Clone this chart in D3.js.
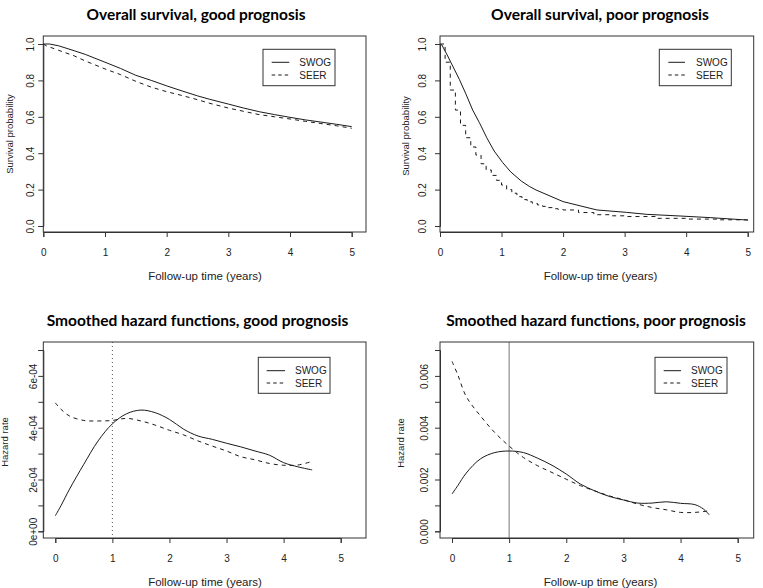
<!DOCTYPE html>
<html><head><meta charset="utf-8">
<script src="https://cdn.jsdelivr.net/npm/d3@7"></script>
<style>
body{margin:0;background:#fff;}
svg{display:block;}
text{font-family:"Liberation Sans",Arial,sans-serif;fill:#222;}
.title{font-family:Lato,"Open Sans",sans-serif;font-weight:700;fill:#000;}
</style></head><body>
<svg id="chart" width="763" height="588"></svg>
<script>
// ---------- DATA ----------
const yearTicks = [0,1,2,3,4,5];
const survTicks = [0,0.2,0.4,0.6,0.8,1.0];
const survTickLabels = ["0.0","0.2","0.4","0.6","0.8","1.0"];
const hazGoodTicks = [0,1e-4,2e-4,3e-4,4e-4,5e-4,6e-4,7e-4];
const hazGoodTickLabels = ["0e+00","","2e-04","","4e-04","","6e-04",""];
const hazPoorTicks = [0,0.001,0.002,0.003,0.004,0.005,0.006,0.007];
const hazPoorTickLabels = ["0.000","","0.002","","0.004","","0.006",""];
const seriesNames = ["SWOG","SEER"];

// Overall survival, good prognosis
const survGoodSwogT = [0,0.1,0.25,0.5,0.68,1.0,1.25,1.5,1.75,2.0,2.25,2.5,2.7,3.0,3.25,3.5,3.75,4.0,4.25,4.5,4.75,5.0];
const survGoodSwogS = [1.0,1.0,0.99,0.963,0.943,0.900,0.866,0.828,0.800,0.770,0.742,0.715,0.696,0.670,0.648,0.628,0.612,0.597,0.583,0.571,0.559,0.546];
const survGoodSeerT = [0,0.05,0.25,0.5,0.68,1.0,1.25,1.5,1.75,2.0,2.25,2.5,2.7,3.0,3.25,3.5,3.75,4.0,4.25,4.5,4.75,5.0];
const survGoodSeerS = [1.0,0.99,0.965,0.935,0.907,0.863,0.832,0.795,0.763,0.738,0.717,0.694,0.674,0.648,0.630,0.612,0.600,0.588,0.575,0.563,0.551,0.537];

// Overall survival, poor prognosis
const survPoorSwogT = [0,0.03,0.125,0.206,0.314,0.423,0.531,0.64,0.76,0.88,1.02,1.15,1.32,1.46,1.56,2.0,2.55,3.03,3.36,3.9,4.39,4.98,5.0];
const survPoorSwogS = [1.0,0.995,0.934,0.879,0.806,0.724,0.637,0.568,0.485,0.412,0.348,0.297,0.247,0.216,0.198,0.134,0.088,0.075,0.064,0.055,0.046,0.033,0.032];
const survPoorSeerT = [0,0.083,0.167,0.25,0.333,0.417,0.5,0.583,0.667,0.75,0.833,0.917,1.0,1.083,1.167,1.25,1.333,1.417,1.5,1.583,1.667,1.75,1.833,1.917,2.0,2.25,2.5,2.75,3.0,3.5,4.0,4.5,5.0];
const survPoorSeerS = [1.0,0.90,0.747,0.637,0.553,0.485,0.434,0.39,0.342,0.308,0.278,0.251,0.225,0.20,0.18,0.161,0.145,0.133,0.124,0.116,0.108,0.101,0.095,0.091,0.088,0.074,0.062,0.056,0.052,0.042,0.038,0.034,0.030];

// Smoothed hazard, good prognosis
const hazT = [0,0.1,0.25,0.5,0.75,1.0,1.25,1.5,1.75,2.0,2.25,2.5,2.75,3.0,3.25,3.5,3.75,4.0,4.25,4.5];
const hazGoodSwog = [0.60e-4,0.99e-4,1.63e-4,2.59e-4,3.49e-4,4.15e-4,4.54e-4,4.68e-4,4.58e-4,4.32e-4,3.94e-4,3.68e-4,3.55e-4,3.40e-4,3.26e-4,3.10e-4,2.94e-4,2.65e-4,2.49e-4,2.37e-4];
const hazGoodSeer = [4.96e-4,4.71e-4,4.45e-4,4.28e-4,4.26e-4,4.28e-4,4.36e-4,4.26e-4,4.10e-4,3.90e-4,3.72e-4,3.49e-4,3.29e-4,3.10e-4,2.88e-4,2.76e-4,2.62e-4,2.55e-4,2.56e-4,2.70e-4];

// Smoothed hazard, poor prognosis
const hazPoorSwogT = [0,0.1,0.25,0.5,0.75,1.0,1.25,1.5,1.75,2.0,2.25,2.5,2.75,3.0,3.25,3.5,3.75,4.0,4.25,4.4,4.5];
const hazPoorSwog = [1.44e-3,1.76e-3,2.25e-3,2.80e-3,3.04e-3,3.10e-3,3.04e-3,2.82e-3,2.55e-3,2.21e-3,1.82e-3,1.56e-3,1.35e-3,1.21e-3,1.09e-3,1.09e-3,1.14e-3,1.08e-3,1.03e-3,0.86e-3,0.64e-3];
const hazPoorSeer = [6.56e-3,6.05e-3,5.20e-3,4.45e-3,3.81e-3,3.29e-3,2.85e-3,2.53e-3,2.27e-3,2.01e-3,1.76e-3,1.56e-3,1.37e-3,1.22e-3,1.05e-3,0.92e-3,0.83e-3,0.73e-3,0.73e-3,0.79e-3];

const titles = ["Overall survival, good prognosis","Overall survival, poor prognosis",
  "Smoothed hazard functions, good prognosis","Smoothed hazard functions, poor prognosis"];
const xTitle = "Follow-up time (years)";
const yTitles = ["Survival probability","Survival probability","Hazard rate","Hazard rate"];

// ---------- LAYOUT ----------
const svg = d3.select("#chart");
const zip = (t,v)=>t.map((d,i)=>[d,v[i]]);

const panels = [
 {box:[43.3,36,366,232], x:[43.3,351.7], y:[226,44], yd:[0,1], yt:survTicks, ytl:survTickLabels,
  ylx:30, ytitx:10, ytity:134, tx:196, ty:15, tw:219, xtx:205, xty:276,
  leg:[263,49.3,335,85.7], legLine:[271.7,289.3], legText:299.3, legY:[62.3,75],
  series:[{d:zip(survGoodSwogT,survGoodSwogS),dash:null,curve:d3.curveLinear},
          {d:zip(survGoodSeerT,survGoodSeerS),dash:"4,4",curve:d3.curveLinear}]},
 {box:[440,36,753.7,232], x:[440,747.7], y:[226,44], yd:[0,1], yt:survTicks, ytl:survTickLabels,
  ylx:422.7, ytitx:406, ytity:136, tx:600, ty:15, tw:218, xtx:600.5, xty:276,
  leg:[659.3,49.3,731.3,85.7], legLine:[668.3,685], legText:696, legY:[62.3,75],
  series:[{d:zip(survPoorSwogT,survPoorSwogS),dash:null,curve:d3.curveLinear},
          {d:zip(survPoorSeerT,survPoorSeerS),dash:"4,4",curve:d3.curveStepAfter}]},
 {box:[43.3,342,366,538], x:[55.3,340.7], y:[531.3,350], yd:[0,7e-4], yt:hazGoodTicks, ytl:hazGoodTickLabels,
  ylx:33, ytitx:4.5, ytity:442, tx:197.5, ty:321, tw:302, xtx:205, xty:582,
  leg:[258.3,357.3,330,393.3], legLine:[266.7,285], legText:295, legY:[370.7,383],
  vline:{dash:"1,3",color:"#555"},
  series:[{d:zip(hazT,hazGoodSwog),dash:null,curve:d3.curveCatmullRom},
          {d:zip(hazT,hazGoodSeer),dash:"4,4",curve:d3.curveCatmullRom}]},
 {box:[440,342,753.7,538], x:[452,737.7], y:[531.3,350], yd:[0,0.007], yt:hazPoorTicks, ytl:hazPoorTickLabels,
  ylx:424.3, ytitx:401, ytity:443, tx:596, ty:321, tw:300, xtx:600.5, xty:582,
  leg:[655,357.3,727,393.3], legLine:[663.7,681], legText:691, legY:[370.7,383],
  vline:{dash:null,color:"#777"},
  series:[{d:zip(hazPoorSwogT,hazPoorSwog),dash:null,curve:d3.curveCatmullRom},
          {d:zip(hazT,hazPoorSeer),dash:"4,4",curve:d3.curveCatmullRom}]}
];

panels.forEach((p,i)=>{
  const g = svg.append("g");
  const [bx0,by0,bx1,by1] = p.box;
  const xs = d3.scaleLinear().domain([0,5]).range(p.x);
  const ys = d3.scaleLinear().domain(p.yd).range(p.y);

  if (p.vline) {
    g.append("line").attr("x1",xs(1)).attr("x2",xs(1)).attr("y1",by0).attr("y2",by1)
      .attr("stroke",p.vline.color).attr("stroke-width",1)
      .attr("stroke-dasharray",p.vline.dash);
  }

  p.series.forEach(s=>{
    const line = d3.line().x(d=>xs(d[0])).y(d=>ys(d[1])).curve(s.curve);
    g.append("path").attr("d",line(s.d)).attr("fill","none")
      .attr("stroke","#1a1a1a").attr("stroke-width",1)
      .attr("stroke-dasharray",s.dash);
  });

  g.append("rect").attr("x",bx0).attr("y",by0).attr("width",bx1-bx0).attr("height",by1-by0)
    .attr("fill","none").attr("stroke","#333").attr("stroke-width",1);

  const xa = g.append("g").attr("transform",`translate(0,${by1})`)
    .call(d3.axisBottom(xs).tickValues(yearTicks).tickSize(5).tickPadding(12).tickFormat(d3.format("d")));
  xa.select(".domain").attr("stroke","#333");
  xa.selectAll(".tick line").attr("stroke","#333");
  xa.selectAll("text").attr("font-size","10px").attr("fill","#222")
    .style("font-family","'Liberation Sans',Arial,sans-serif");

  const ya = g.append("g").attr("transform",`translate(${bx0},0)`)
    .call(d3.axisLeft(ys).tickValues(p.yt).tickSize(5).tickFormat((d,k)=>p.ytl[k]));
  ya.select(".domain").attr("stroke","#333");
  ya.selectAll(".tick line").attr("stroke","#333");
  ya.selectAll(".tick text").attr("x",null).attr("dy",null).attr("text-anchor","middle")
    .attr("transform",`translate(${p.ylx-bx0},0) rotate(-90)`).attr("dy","0.35em")
    .attr("font-size","10px").attr("fill","#222")
    .style("font-family","'Liberation Sans',Arial,sans-serif");

  const t = g.append("text").attr("class","title").attr("x",p.tx).attr("y",p.ty)
    .attr("text-anchor","middle").attr("dy","0.35em").attr("font-size","15px").text(titles[i]);
  const w = t.node().getComputedTextLength();
  t.attr("font-size",(15*p.tw/w).toFixed(2)+"px");

  g.append("text").attr("x",p.xtx).attr("y",p.xty).attr("text-anchor","middle").attr("dy","0.35em")
    .attr("font-size","11.5px").text(xTitle);
  g.append("text").attr("transform",`translate(${p.ytitx},${p.ytity}) rotate(-90)`)
    .attr("text-anchor","middle").attr("dy","0.35em").attr("font-size","9.5px").text(yTitles[i]);

  const [lx0,ly0,lx1,ly1] = p.leg;
  g.append("rect").attr("x",lx0).attr("y",ly0).attr("width",lx1-lx0).attr("height",ly1-ly0)
    .attr("fill","#fff").attr("stroke","#333").attr("stroke-width",1);
  seriesNames.forEach((n,k)=>{
    g.append("line").attr("x1",p.legLine[0]).attr("x2",p.legLine[1])
      .attr("y1",p.legY[k]).attr("y2",p.legY[k]).attr("stroke","#1a1a1a").attr("stroke-width",1)
      .attr("stroke-dasharray",p.series[k].dash ? "3.5,3" : null);
    g.append("text").attr("x",p.legText).attr("y",p.legY[k]).attr("dy","0.35em")
      .attr("font-size","10px").text(n);
  });
});
</script></body></html>
